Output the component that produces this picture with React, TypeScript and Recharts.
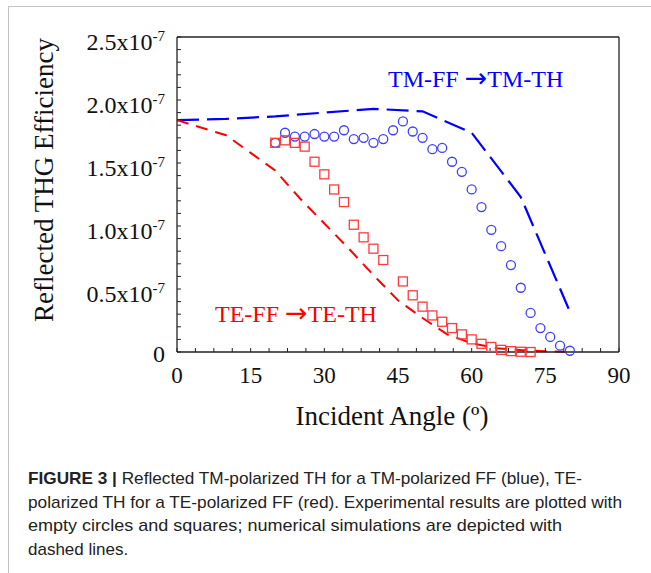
import { ComposedChart, Line, Scatter, XAxis, YAxis } from 'recharts';

// efficiency values are in units of 1e-7, angles in degrees
const tmSimAngle = [0, 10, 20, 30, 40, 50, 60, 70, 80];
const tmSimValue = [1.84, 1.85, 1.87, 1.9, 1.93, 1.91, 1.74, 1.23, 0.32];

const teSimAngle = [0, 5, 10, 15, 20, 25, 30, 35, 40, 45, 50, 55, 60, 65, 70, 75, 80];
const teSimValue = [1.84, 1.78, 1.72, 1.58, 1.44, 1.22, 1.02, 0.82, 0.61, 0.41, 0.27, 0.14, 0.07, 0.03, 0.015, 0.005, 0];

const tmExpAngle = [
  20, 22, 24, 26, 28, 30, 32, 34, 36, 38, 40, 42, 44, 46, 48, 50,
  52, 54, 56, 58, 60, 62, 64, 66, 68, 70, 72, 74, 76, 78, 80,
];
const tmExpValue = [
  1.66, 1.74, 1.71, 1.71, 1.73, 1.71, 1.71, 1.76, 1.69, 1.7, 1.66, 1.69, 1.76, 1.83, 1.75, 1.7,
  1.61, 1.62, 1.51, 1.43, 1.29, 1.15, 0.97, 0.84, 0.69, 0.51, 0.31, 0.19, 0.12, 0.05, 0.01,
];

const teExpAngle = [
  20, 22, 24, 26, 28, 30, 32, 34, 36, 38, 40, 42, 46, 48, 50,
  52, 54, 56, 58, 60, 62, 64, 66, 68, 70, 72,
];
const teExpValue = [
  1.66, 1.68, 1.66, 1.63, 1.51, 1.41, 1.29, 1.19, 1.01, 0.91, 0.82, 0.73, 0.56, 0.45, 0.36,
  0.29, 0.24, 0.19, 0.14, 0.1, 0.065, 0.04, 0.017, 0.007, 0.002, 0,
];

const xTickLabels = [0, 15, 30, 45, 60, 75, 90];
const yTickLabels = [0, 0.5, 1.0, 1.5, 2.0, 2.5];

const SERIF = "'Liberation Serif', 'Times New Roman', serif";
const SANS = "'Liberation Sans Narrow', 'Liberation Sans', Arial, sans-serif";
const FRAME = '#222';

const zip = (xs: number[], ys: number[]) => xs.map((x, i) => ({ x, y: ys[i] }));

// minor ticks between the labelled ones
function withMinor(labels: number[], parts: number) {
  const out: number[] = [];
  for (let i = 0; i < labels.length - 1; i++) {
    const a = labels[i];
    const b = labels[i + 1];
    for (let k = 0; k < parts; k++) out.push(a + ((b - a) * k) / parts);
  }
  out.push(labels[labels.length - 1]);
  return out;
}

const xTicks = withMinor(xTickLabels, 4);
const yTicks = withMinor(yTickLabels, 5);

const isLabel = (v: number, labels: number[]) => labels.some((l) => Math.abs(l - v) < 1e-6);

function XTick(props: any) {
  const { x, y, payload } = props;
  if (!isLabel(payload.value, xTickLabels)) return <g />;
  return (
    <text x={x} y={y} textAnchor="middle" fontSize={23} fontFamily={SERIF} fill="#111">
      {Math.round(payload.value)}
    </text>
  );
}

function YTick(props: any) {
  const { x, y, payload } = props;
  const v = payload.value as number;
  if (!isLabel(v, yTickLabels)) return <g />;
  if (Math.abs(v) < 1e-6) {
    return (
      <text x={x} y={y + 10} textAnchor="end" fontSize={24} fontFamily={SERIF} fill="#111">
        0
      </text>
    );
  }
  return (
    <text x={x} y={y + 13} textAnchor="end" fontSize={24} fontFamily={SERIF} fill="#111">
      {v.toFixed(1)}x10
      <tspan dy={-9} fontSize={15}>
        -7
      </tspan>
    </text>
  );
}

const circleShape = (p: any) => (
  <circle cx={p.cx} cy={p.cy} r={4.5} fill="none" stroke="#3f3fff" strokeWidth={1.3} />
);
const squareShape = (p: any) => (
  <rect x={p.cx - 4.5} y={p.cy - 4.5} width={9} height={9} fill="none" stroke="#ff3b3b" strokeWidth={1.3} />
);

const captionLines = [
  'Reflected TM-polarized TH for a TM-polarized FF (blue), TE-',
  'polarized TH for a TE-polarized FF (red). Experimental results are plotted with',
  'empty circles and squares; numerical simulations are depicted with',
  'dashed lines.',
];

function Arrow() {
  return (
    <tspan fontFamily="'DejaVu Sans', sans-serif" fontSize={27}>
      →
    </tspan>
  );
}

export default function App() {
  return (
    <div style={{ position: 'absolute', left: 0, top: 0, width: 651, height: 573, background: '#fff', overflow: 'hidden' }}>
      <div
        style={{
          position: 'absolute',
          left: 8,
          top: 6,
          width: 700,
          height: 700,
          borderLeft: '1px solid #c4c4c4',
          borderTop: '1px solid #c4c4c4',
        }}
      />
      <div style={{ position: 'absolute', left: 0, top: 0 }}>
        <ComposedChart width={651} height={440} margin={{ top: 36, right: 31, bottom: 0, left: 0 }}>
          <XAxis
            xAxisId="b"
            dataKey="x"
            type="number"
            domain={[0, 90]}
            ticks={xTicks}
            interval={0}
            tickSize={-4}
            tickMargin={35}
            height={88}
            tick={XTick}
            axisLine={{ stroke: FRAME, strokeWidth: 1.3 }}
            tickLine={{ stroke: FRAME }}
          />
          <XAxis
            xAxisId="t"
            orientation="top"
            dataKey="x"
            type="number"
            domain={[0, 90]}
            ticks={xTicks}
            interval={0}
            tickSize={-4}
            height={1}
            tick={false}
            axisLine={{ stroke: FRAME, strokeWidth: 1.3 }}
            tickLine={{ stroke: FRAME }}
          />
          <YAxis
            yAxisId="l"
            dataKey="y"
            type="number"
            domain={[0, 2.5]}
            ticks={yTicks}
            interval={0}
            tickSize={-4}
            tickMargin={16}
            width={177}
            tick={YTick}
            axisLine={{ stroke: FRAME, strokeWidth: 1.3 }}
            tickLine={{ stroke: FRAME }}
          />
          <YAxis
            yAxisId="r"
            orientation="right"
            dataKey="y"
            type="number"
            domain={[0, 2.5]}
            ticks={yTicks}
            interval={0}
            tickSize={-4}
            width={1}
            tick={false}
            axisLine={{ stroke: FRAME, strokeWidth: 1.3 }}
            tickLine={{ stroke: FRAME }}
          />
          <Line
            xAxisId="b"
            yAxisId="l"
            data={zip(tmSimAngle, tmSimValue)}
            dataKey="y"
            type="linear"
            stroke="#0000ff"
            strokeWidth={2.2}
            strokeDasharray="22 8"
            dot={false}
            activeDot={false}
            isAnimationActive={false}
          />
          <Line
            xAxisId="b"
            yAxisId="l"
            data={zip(teSimAngle, teSimValue)}
            dataKey="y"
            type="linear"
            stroke="#ff0000"
            strokeWidth={2}
            strokeDasharray="12 8"
            dot={false}
            activeDot={false}
            isAnimationActive={false}
          />
          <Scatter
            xAxisId="b"
            yAxisId="l"
            data={zip(tmExpAngle, tmExpValue)}
            dataKey="y"
            shape={circleShape}
            isAnimationActive={false}
          />
          <Scatter
            xAxisId="b"
            yAxisId="l"
            data={zip(teExpAngle, teExpValue)}
            dataKey="y"
            shape={squareShape}
            isAnimationActive={false}
          />
        </ComposedChart>
      </div>
      <svg width={651} height={573} style={{ position: 'absolute', left: 0, top: 0, pointerEvents: 'none' }}>
        <text x={388} y={87} fontSize={24} fontFamily={SERIF} fill="#0000ff">
          TM-FF <Arrow />
          <tspan>TM-TH</tspan>
        </text>
        <text x={215} y={322} fontSize={24} fontFamily={SERIF} fill="#ff0000">
          TE-FF <Arrow />
          <tspan>TE-TH</tspan>
        </text>
        <text x={392} y={425} textAnchor="middle" fontSize={27} fontFamily={SERIF} fill="#111">
          Incident Angle (º)
        </text>
        <text
          x={53}
          y={180}
          textAnchor="middle"
          fontSize={27}
          fontFamily={SERIF}
          fill="#111"
          transform="rotate(-90 53 180)"
        >
          Reflected THG Efficiency
        </text>
        <text x={28} y={484} fontSize={17} fontFamily={SANS} fill="#222" textLength={554} lengthAdjust="spacingAndGlyphs">
          <tspan fontWeight="bold">FIGURE 3 |</tspan> {captionLines[0]}
        </text>
        <text x={28} y={507.5} fontSize={17} fontFamily={SANS} fill="#222" textLength={594} lengthAdjust="spacingAndGlyphs">
          {captionLines[1]}
        </text>
        <text x={28} y={531} fontSize={17} fontFamily={SANS} fill="#222" textLength={534} lengthAdjust="spacingAndGlyphs">
          {captionLines[2]}
        </text>
        <text x={28} y={555} fontSize={17} fontFamily={SANS} fill="#222">
          {captionLines[3]}
        </text>
      </svg>
    </div>
  );
}
